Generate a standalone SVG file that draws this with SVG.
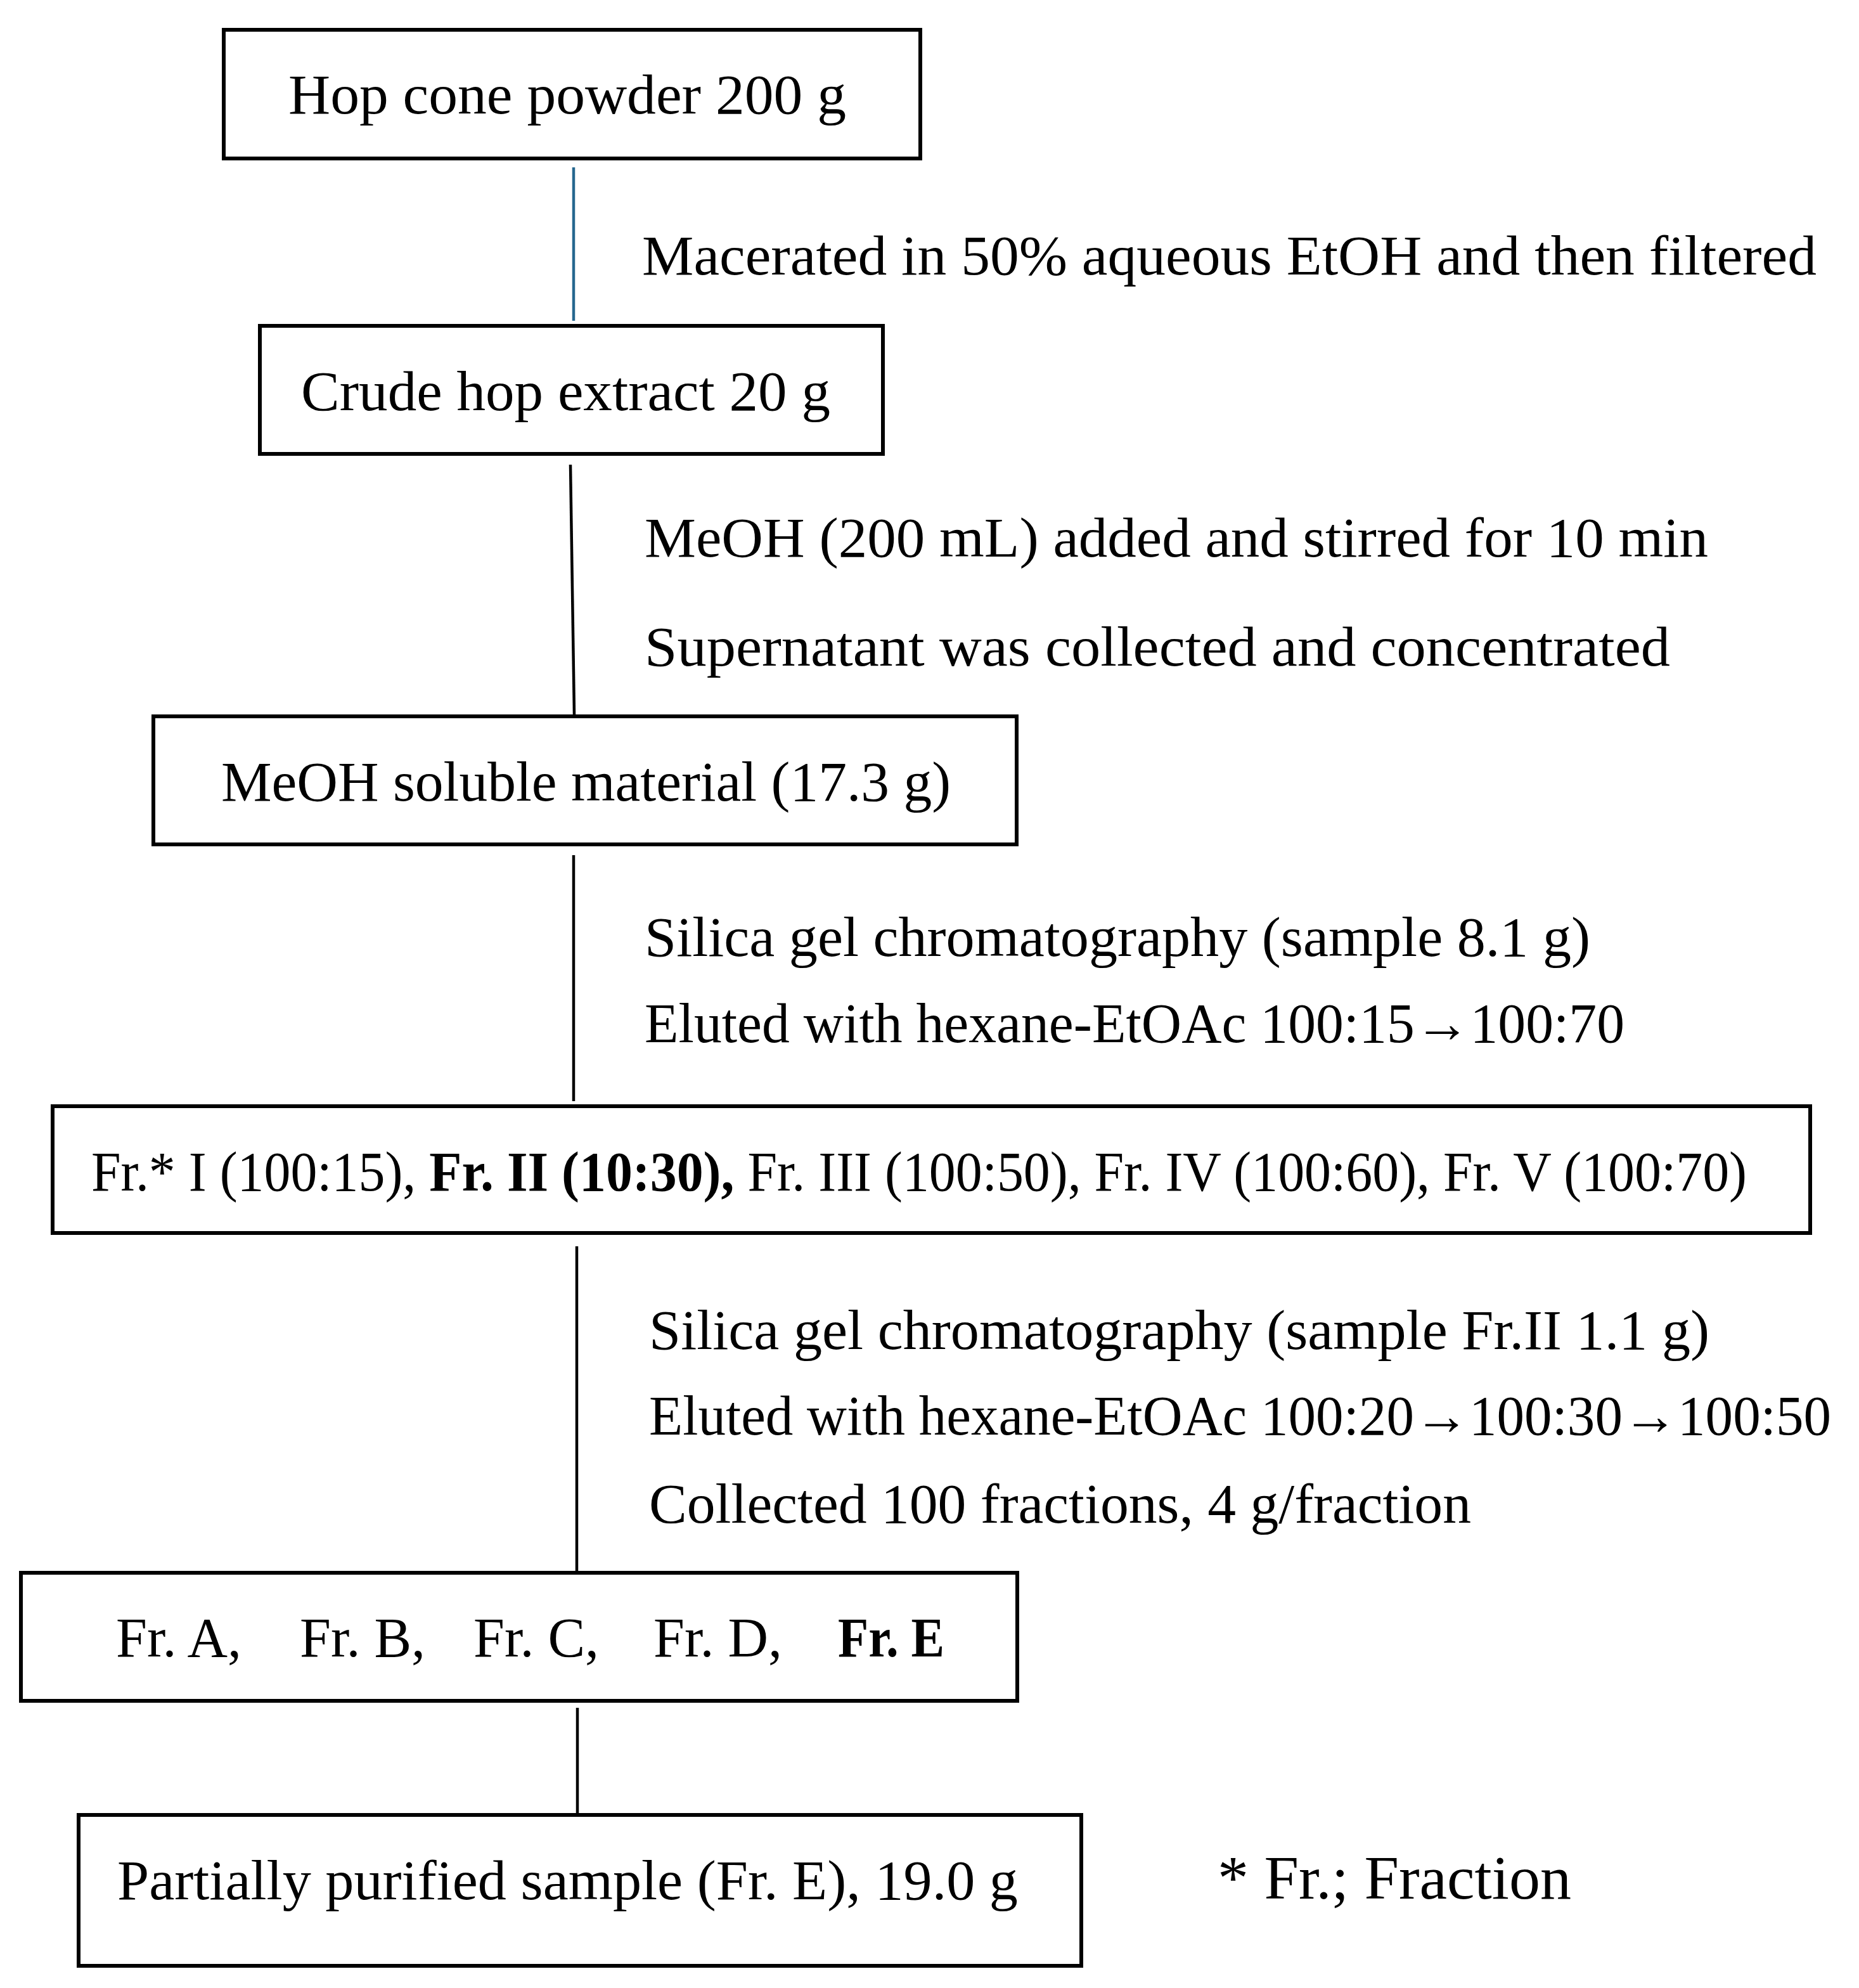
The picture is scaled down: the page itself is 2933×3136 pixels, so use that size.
<svg xmlns="http://www.w3.org/2000/svg" width="2933" height="3136" viewBox="0 0 2933 3136">
<style>
.box{fill:#fff;stroke:#000;stroke-width:6}
.t{font-family:"Liberation Serif","Times New Roman",serif;font-size:88px;fill:#000}
.b{font-weight:bold}
.ln{stroke:#000;stroke-width:4.5;fill:none}
</style>
<rect width="2933" height="3136" fill="#fff"/>
<g id="connectors">
<line class="ln" x1="905" y1="264" x2="905" y2="506" style="stroke:#26678f"/>
<line class="ln" x1="900" y1="733" x2="906" y2="1127"/>
<line class="ln" x1="905" y1="1349" x2="905" y2="1737"/>
<line class="ln" x1="910" y1="1966" x2="910" y2="2478"/>
<line class="ln" x1="911" y1="2694" x2="911" y2="2860"/>
</g>
<g id="label-step1">
<text class="t" x="1013" y="433" textLength="1853" lengthAdjust="spacingAndGlyphs">Macerated in 50% aqueous EtOH and then filtered</text>
</g>
<g id="label-step2">
<text class="t" x="1017" y="878" textLength="1678" lengthAdjust="spacingAndGlyphs">MeOH (200 mL) added and stirred for 10 min</text>
<text class="t" x="1017" y="1050" textLength="1618" lengthAdjust="spacingAndGlyphs">Supernatant was collected and concentrated</text>
</g>
<g id="label-step3">
<text class="t" x="1017" y="1508" textLength="1492" lengthAdjust="spacingAndGlyphs">Silica gel chromatography (sample 8.1 g)</text>
<text class="t" x="1017" y="1644" textLength="1546" lengthAdjust="spacingAndGlyphs">Eluted with hexane-EtOAc 100:15→100:70</text>
</g>
<g id="label-step4">
<text class="t" x="1024" y="2128" textLength="1673" lengthAdjust="spacingAndGlyphs">Silica gel chromatography (sample Fr.II 1.1 g)</text>
<text class="t" x="1024" y="2263" textLength="1865" lengthAdjust="spacingAndGlyphs">Eluted with hexane-EtOAc 100:20→100:30→100:50</text>
<text class="t" x="1024" y="2402" textLength="1297" lengthAdjust="spacingAndGlyphs">Collected 100 fractions, 4 g/fraction</text>
</g>
<g id="node-hop-cone">
<rect class="box" x="353" y="47" width="1099" height="203"/>
<text class="t" x="455" y="179" textLength="880" lengthAdjust="spacingAndGlyphs">Hop cone powder 200 g</text>
</g>
<g id="node-crude">
<rect class="box" x="410" y="514" width="983" height="202"/>
<text class="t" x="475" y="647" textLength="835" lengthAdjust="spacingAndGlyphs">Crude hop extract 20 g</text>
</g>
<g id="node-meoh">
<rect class="box" x="242" y="1130" width="1362" height="202"/>
<text class="t" x="349" y="1263" textLength="1151" lengthAdjust="spacingAndGlyphs">MeOH soluble material (17.3 g)</text>
</g>
<g id="node-fractions">
<rect class="box" x="83" y="1745" width="2773" height="200"/>
<text class="t" x="144" y="1878" textLength="2612" lengthAdjust="spacingAndGlyphs">Fr.* I (100:15), <tspan class="b">Fr. II (10:30),</tspan> Fr. III (100:50), Fr. IV (100:60), Fr. V (100:70)</text>
</g>
<g id="node-subfractions">
<rect class="box" x="33" y="2481" width="1572" height="202"/>
<text class="t" y="2613"><tspan x="183">Fr. A,</tspan><tspan x="473">Fr. B,</tspan><tspan x="747">Fr. C,</tspan><tspan x="1031">Fr. D,</tspan></text>
<text class="t b" x="1322" y="2613" textLength="168" lengthAdjust="spacingAndGlyphs">Fr. E</text>
</g>
<g id="node-partial">
<rect class="box" x="124" y="2863" width="1582" height="238"/>
<text class="t" x="185" y="2996" textLength="1421" lengthAdjust="spacingAndGlyphs">Partially purified sample (Fr. E), 19.0 g</text>
</g>
<g id="footnote">
<text class="t" x="1921" y="2995" style="font-size:98px">* Fr.; Fraction</text>
</g>
</svg>
